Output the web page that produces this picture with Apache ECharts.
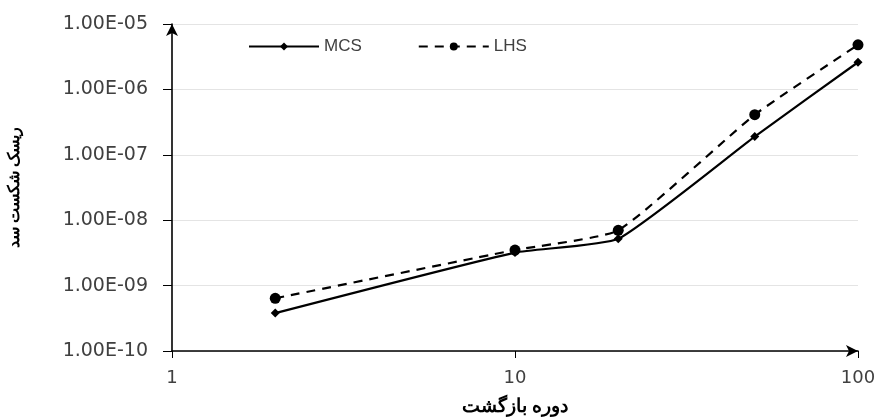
<!DOCTYPE html>
<html>
<head>
<meta charset="utf-8">
<script src="https://cdn.jsdelivr.net/npm/echarts@6/dist/echarts.min.js"></script>
<style>
  html, body { margin: 0; padding: 0; background: #fff; }
  #main { width: 880px; height: 418px; }
</style>
</head>
<body>
<div id="main"></div>
<script>
var returnPeriods = [2, 10, 20, 50, 100];
var mcsRisk = [3.8e-10, 3.2e-9, 5.2e-9, 1.9e-7, 2.6e-6];
var lhsRisk = [6.4e-10, 3.5e-9, 7.0e-9, 4.1e-7, 4.8e-6];
var seriesNames = ['MCS', 'LHS'];
var xTitle = 'دوره بازگشت';
var yTitle = 'ریسک شکست سد';

function pairs(xs, ys) {
  return xs.map(function (x, i) { return [x, ys[i]]; });
}

// excel style scientific label, e.g. 1.00E-05
function sci(v) {
  var parts = v.toExponential(2).split('e');
  var exp = parseInt(parts[1], 10);
  var sign = exp < 0 ? '-' : '+';
  var digits = String(Math.abs(exp));
  if (digits.length < 2) digits = '0' + digits;
  return parts[0] + 'E' + sign + digits;
}

var axisLine = {
  show: true,
  symbol: ['none', 'arrow'],
  symbolSize: [9, 12],
  lineStyle: { color: '#000', width: 1.6 }
};

var option = {
  animation: false,
  textStyle: { fontFamily: 'DejaVu Sans' },
  grid: { left: 172, right: 22, top: 24, bottom: 67, containLabel: false, outerBoundsMode: 'none' },
  legend: {
    left: 243,
    top: 33,
    itemGap: 56,
    itemWidth: 70,
    itemHeight: 10,
    textStyle: { color: '#404040', fontSize: 17, fontFamily: 'Liberation Sans' },
    data: seriesNames
  },
  xAxis: {
    type: 'log',
    logBase: 10,
    min: 1,
    max: 100,
    name: xTitle,
    nameLocation: 'middle',
    nameGap: 46,
    nameTextStyle: { color: '#000', fontSize: 19, fontWeight: 'bold', fontFamily: 'Noto Sans' },
    axisLine: axisLine,
    axisTick: { show: true, length: 7, lineStyle: { color: '#000' } },
    axisLabel: { color: '#404040', fontSize: 18, margin: 18 },
    splitLine: { show: false }
  },
  yAxis: {
    type: 'log',
    logBase: 10,
    min: 1e-10,
    max: 1e-5,
    name: yTitle,
    nameLocation: 'middle',
    nameRotate: 90,
    nameGap: 150,
    nameTextStyle: { color: '#000', fontSize: 16, fontWeight: 'bold', fontFamily: 'Noto Sans' },
    axisLine: axisLine,
    axisTick: { show: true, length: 9, lineStyle: { color: '#000' } },
    axisLabel: { color: '#404040', fontSize: 19, margin: 24, formatter: sci },
    splitLine: { show: true, lineStyle: { color: '#e4e4e4', width: 1 } }
  },
  series: [
    {
      name: seriesNames[0],
      type: 'line',
      data: pairs(returnPeriods, mcsRisk),
      smooth: 0.15,
      symbol: 'diamond',
      symbolSize: 9,
      itemStyle: { color: '#000' },
      lineStyle: { color: '#000', width: 2.2, type: 'solid' }
    },
    {
      name: seriesNames[1],
      type: 'line',
      data: pairs(returnPeriods, lhsRisk),
      smooth: 0.15,
      symbol: 'circle',
      symbolSize: 11,
      itemStyle: { color: '#000' },
      lineStyle: { color: '#000', width: 2.2, type: [9, 7] }
    }
  ]
};

echarts.init(document.getElementById('main')).setOption(option);
</script>
</body>
</html>
